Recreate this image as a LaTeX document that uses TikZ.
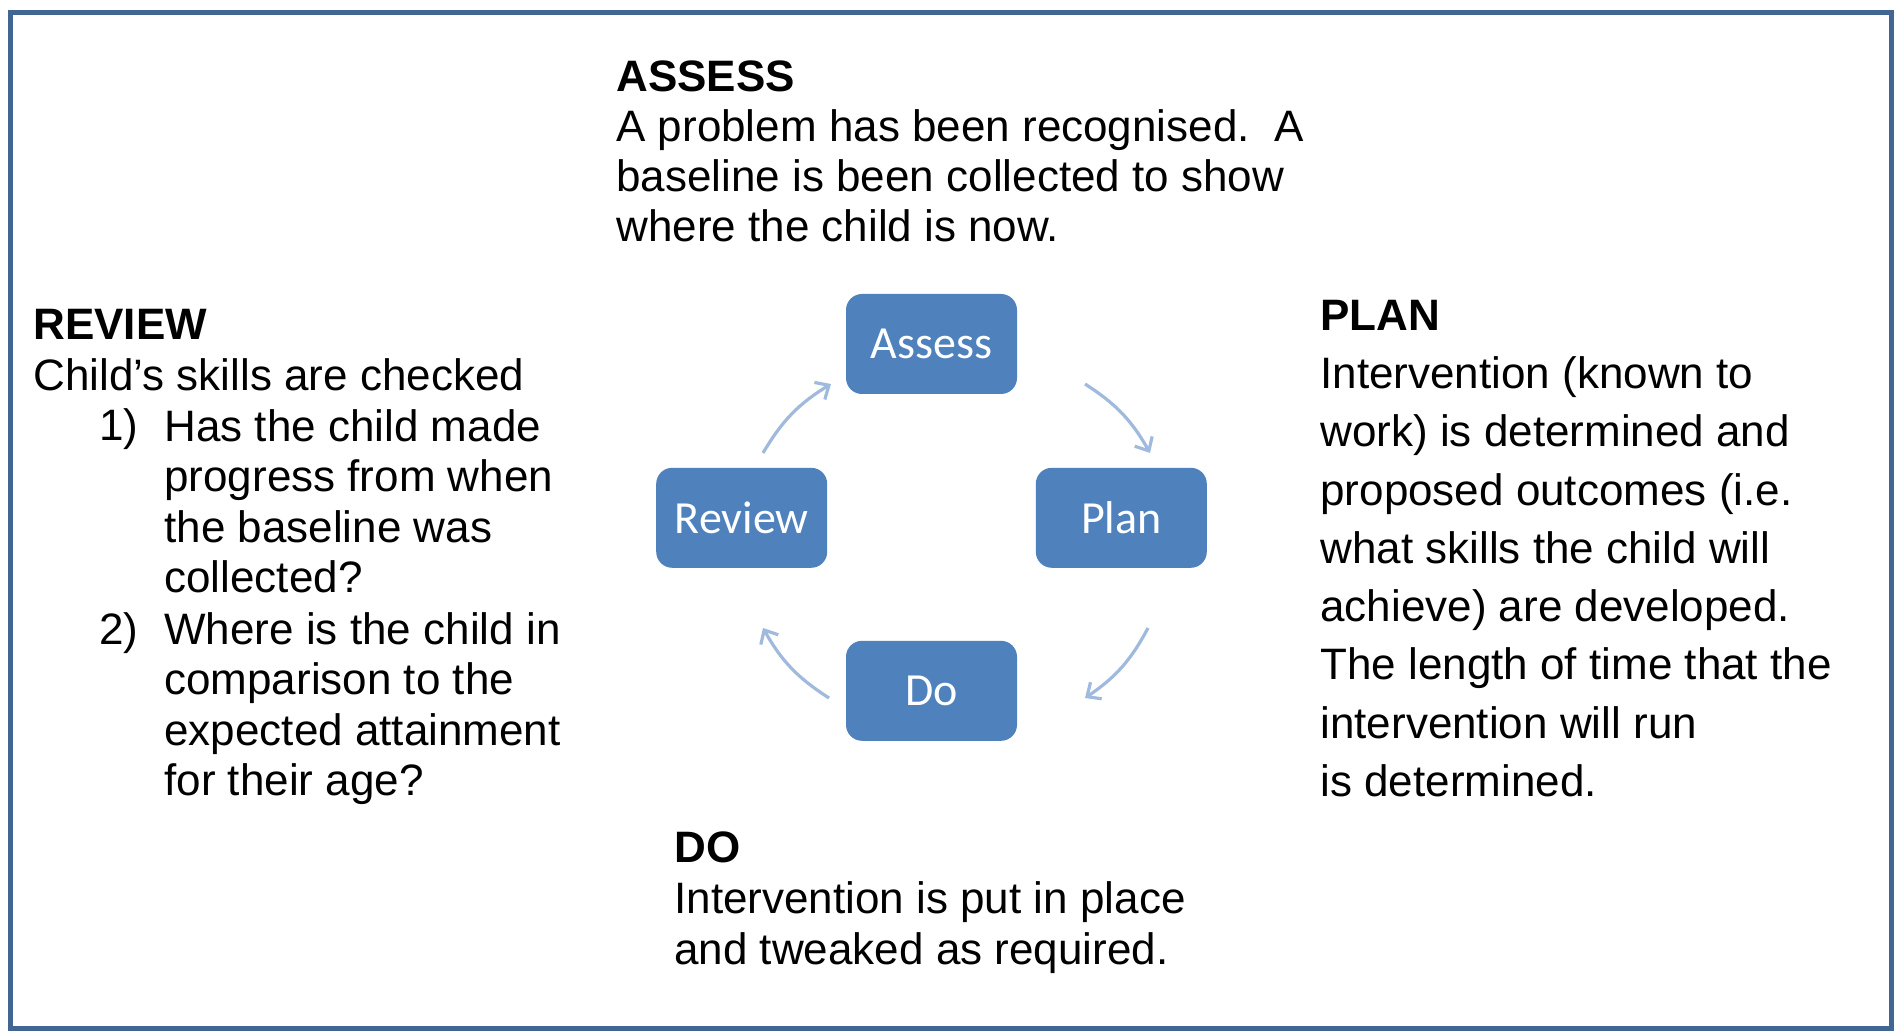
\documentclass[tikz,border=0pt]{standalone}
\usepackage{fontspec}
\setmainfont{Liberation Sans}
\newfontfamily\boxfont{Carlito}
\usetikzlibrary{positioning,arrows.meta}
\definecolor{boxblue}{RGB}{79,129,189}
\definecolor{ringblue}{RGB}{160,186,222}
\definecolor{framecol}{RGB}{66,102,148}
\tikzstyle{phase}=[rectangle, rounded corners=8pt, fill=boxblue, text=white,
               minimum width=85.5pt, minimum height=50pt, inner sep=0pt,
               font=\boxfont\fontsize{23}{27}\selectfont]
\tikzstyle{turn}=[-{Straight Barb[length=5.5pt,width=10pt]}, draw=ringblue,
               line width=1.6pt]
% anchored at the baseline of the last line
\tikzstyle{notes}=[anchor=base west, align=left, inner sep=0pt,
               font=\fontsize{22}{25.3}\selectfont]

\begin{document}
\begin{tikzpicture}[x=0.5pt,y=-0.5pt]
        \useasboundingbox (0,0) rectangle (1894,1031);
        \draw[framecol, line width=2.5pt] (10.5,12.5) rectangle (1891,1028.5);
        % the cycle
        \node [phase] (assess) at (931.5,344) {Assess};
        \node [phase, below right = 36.5pt and 9pt of assess] (plan) {Plan};
        \node [phase, below left = 36.5pt and 9pt of assess] (review) {Review};
        \node [phase, below = 123pt of assess] (do) {Do};
        \coordinate (ap0) at (1085,384); \coordinate (ap1) at (1150,453);
        \coordinate (pd0) at (1148,628); \coordinate (pd1) at (1085,698);
        \coordinate (dr0) at (829,698);  \coordinate (dr1) at (763,628);
        \coordinate (ra0) at (763,453);  \coordinate (ra1) at (831,384);
        \draw[turn] (ap0) to[bend left=14] (ap1);
        \draw[turn] (pd0) to[bend left=14] (pd1);
        \draw[turn] (dr0) to[bend left=14] (dr1);
        \draw[turn] (ra0) to[bend left=14] (ra1);
        % the notes
        \node [notes, font=\fontsize{22}{25}\selectfont] (assessnote) at (616,242)
              {\textbf{ASSESS}\\A problem has been recognised.\ \ A\\baseline is been collected to show\\where the child is now.};
        \node [notes] (reviewnote) at (33,390.6) {\textbf{REVIEW}\\Child’s skills are checked};
        \node [notes] (revnum1) at (99,441) {1)};
        \node [notes] (revitem1) at (164,592.8) {Has the child made\\progress from when\\the baseline was\\collected?};
        \node [notes] (revnum2) at (99,644) {2)};
        \node [notes] (revitem2) at (164,795.8) {Where is the child in\\comparison to the\\expected attainment\\for their age?};
        \node [notes, font=\fontsize{22}{29.15}\selectfont] (plannote) at (1320,796.5)
              {\textbf{PLAN}\\Intervention (known to\\work) is determined and\\proposed outcomes (i.e.\\what skills the child will\\achieve) are developed.\\The length of time that the\\intervention will run\\is determined.};
        \node [notes, font=\fontsize{22}{25.5}\selectfont] (donote) at (674,964)
              {\textbf{DO}\\Intervention is put in place\\and tweaked as required.};
\end{tikzpicture}
\end{document}
